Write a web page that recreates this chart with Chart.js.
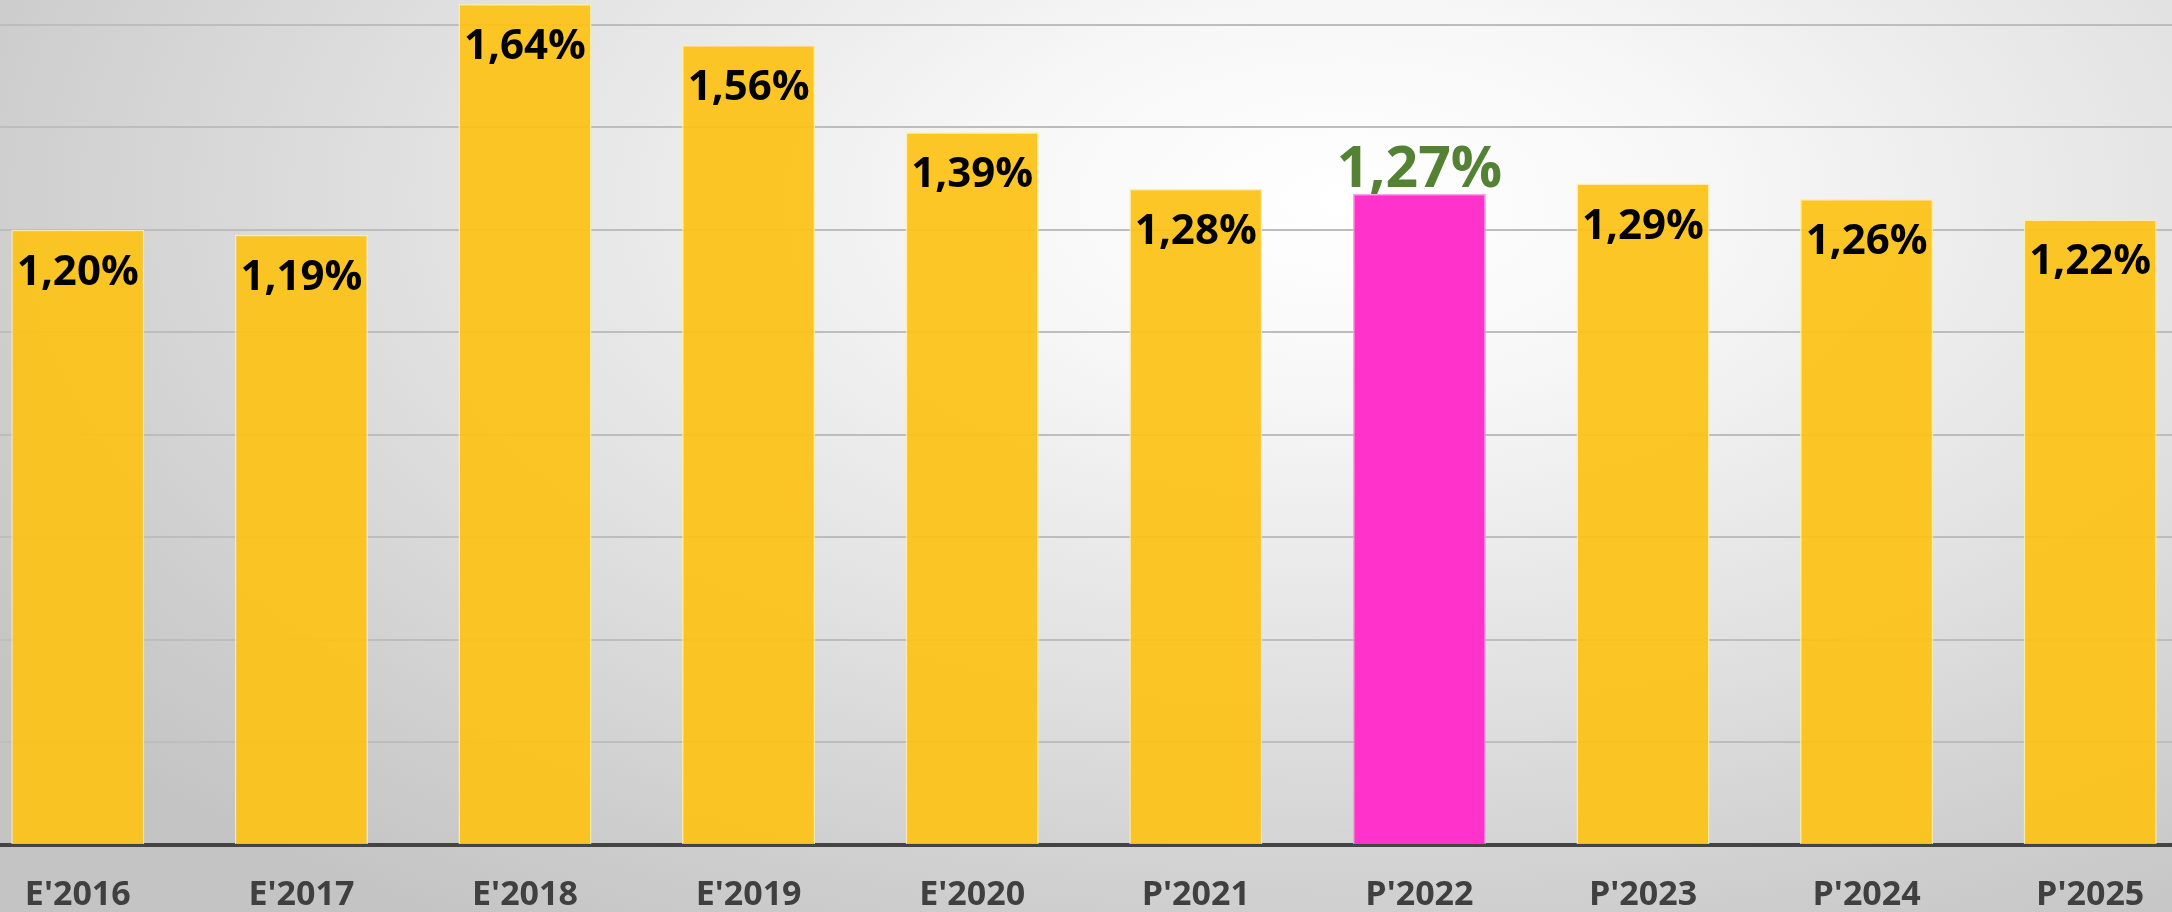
<!DOCTYPE html>
<html>
<head>
<meta charset="utf-8">
<script src="https://cdn.jsdelivr.net/npm/chart.js@4"></script>
<style>
  html, body { margin: 0; padding: 0; width: 2172px; height: 912px; overflow: hidden; }
  body {
    background: radial-gradient(ellipse 75% 95% at 62% 22%, #ffffff 0%, #f7f7f7 22%, #e2e2e2 55%, #cdcdcd 85%, #c4c4c4 100%);
  }
  #wrap { position: absolute; left: -34px; top: 0; width: 2236px; height: 912px; }
</style>
</head>
<body>
<div id="wrap"><canvas id="chart"></canvas></div>
<script>
  const categories = ["E'2016", "E'2017", "E'2018", "E'2019", "E'2020", "P'2021", "P'2022", "P'2023", "P'2024", "P'2025"];
  const values = [1.20, 1.19, 1.64, 1.56, 1.39, 1.28, 1.27, 1.29, 1.26, 1.22];
  const highlightIndex = 6;
  const gridTicks = [0, 0.2, 0.4, 0.6, 0.8, 1.0, 1.2, 1.4, 1.6];

  const barColor = "rgba(252, 196, 24, 0.94)";
  const pinkColor = "#ff33cc";

  function fmt(v) {
    return v.toFixed(2).replace(".", ",") + "%";
  }

  const valueLabels = {
    id: "valueLabels",
    afterDatasetsDraw(chart) {
      const c = chart.ctx;
      const meta = chart.getDatasetMeta(0);
      c.save();
      c.textAlign = "center";
      meta.data.forEach((bar, i) => {
        if (i === highlightIndex) {
          c.font = "700 57px 'Open Sans'";
          c.fillStyle = "#548235";
          c.textBaseline = "alphabetic";
          c.fillText(fmt(values[i]), bar.x, bar.y - 7);
        } else {
          c.font = "700 42px 'Open Sans'";
          c.fillStyle = "#000000";
          c.textBaseline = "middle";
          c.fillText(fmt(values[i]), bar.x, bar.y + 43);
        }
      });
      c.restore();
    },
  };

  new Chart(document.getElementById("chart"), {
    type: "bar",
    data: {
      labels: categories,
      datasets: [
        {
          data: values,
          backgroundColor: values.map((v, i) => (i === highlightIndex ? pinkColor : barColor)),
          borderColor: values.map((v, i) => (i === highlightIndex ? "rgba(255,150,230,0.9)" : "rgba(255,236,170,0.9)")),
          borderWidth: 1.5,
          categoryPercentage: 0.595,
          barPercentage: 1.0,
        },
      ],
    },
    options: {
      responsive: true,
      maintainAspectRatio: false,
      animation: false,
      layout: { padding: 0 },
      plugins: {
        legend: { display: false },
        tooltip: { enabled: false },
      },
      scales: {
        x: {
          grid: { display: false, drawTicks: false },
          border: { display: true, color: "#444444", width: 4 },
          ticks: {
            color: "#404040",
            font: { family: "'Open Sans'", weight: "700", size: 34 },
            padding: 30,
            maxRotation: 0,
          },
          afterFit: (scale) => { scale.height = 67; },
        },
        y: {
          min: 0,
          max: 1.648,
          afterBuildTicks: (scale) => { scale.ticks = gridTicks.map((v) => ({ value: v })); },
          ticks: { display: false },
          grid: { color: "#bdbdbd", lineWidth: 2, drawTicks: false },
          border: { display: false },
          afterFit: (scale) => { scale.width = 0; },
        },
      },
    },
    plugins: [valueLabels],
  });
</script>
</body>
</html>
